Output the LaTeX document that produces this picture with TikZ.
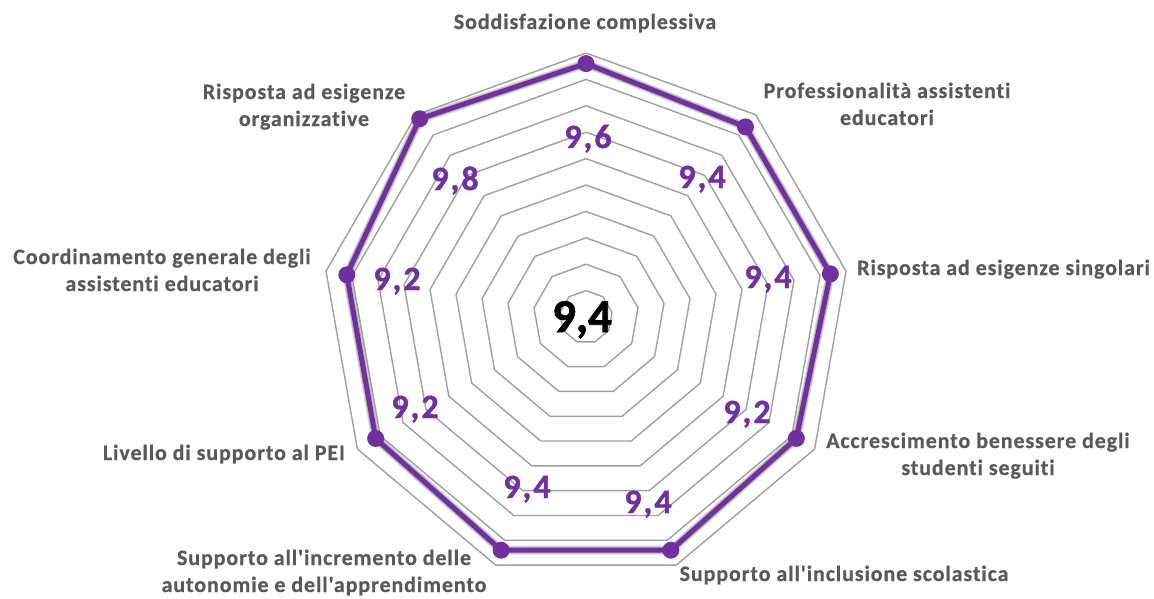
\documentclass[tikz,border=0pt]{standalone}
\usepackage{fontspec}
\setmainfont{Carlito}
\newfontfamily\lblfont[LetterSpace=4,Ligatures=NoCommon,FakeBold=0.4]{Carlito}
\newfontfamily\valfont[LetterSpace=6,Ligatures=NoCommon,FakeBold=1.2]{Carlito}
\newfontfamily\avgfont[FakeBold=1.5]{Carlito}
\definecolor{lblgray}{RGB}{89,89,89}
\definecolor{purp}{RGB}{112,48,160}
\definecolor{gridgray}{RGB}{160,160,160}
\begin{document}
\begin{tikzpicture}[x=1pt,y=-1pt,
  gridline/.style={draw=gridgray,line width=1.4pt,line join=round},
  axislabel/.style={text=lblgray,font=\lblfont\bfseries\fontsize{22}{27}\selectfont,align=center,inner sep=0pt,anchor=base},
  vallabel/.style={text=purp,font=\valfont\bfseries\fontsize{34}{34}\selectfont,inner sep=0pt,anchor=base},
  series/.style={draw=purp,line width=5pt,line join=round},
  shadowline/.style={draw=black,line width=9pt,line join=round,opacity=0.15},
  marker/.style={circle,fill=purp,inner sep=0pt,minimum size=17pt}]
\useasboundingbox (0,0) rectangle (1154,598);
\fill[white] (0,0) rectangle (1154,598);
\begin{scope}[shift={(586,317)}]
  % grid rings
  \foreach \i in {1,...,10}{
    \pgfmathsetmacro{\r}{26.4*\i}
    \draw[gridline] ({\r*cos(-90)},{\r*sin(-90)})
      \foreach \k in {1,...,8}{ -- ({\r*cos(-90+40*\k)},{\r*sin(-90+40*\k)}) } -- cycle;
  }
  % data points
  \foreach \v [count=\k from 0] in {9.6,9.4,9.4,9.2,9.4,9.4,9.2,9.2,9.8}{
    \coordinate (p\k) at ({26.4*\v*cos(-90+40*\k)},{26.4*\v*sin(-90+40*\k)});
  }
  \begin{scope}[shift={(0,-4)}]
    \draw[shadowline] (p0)--(p1)--(p2)--(p3)--(p4)--(p5)--(p6)--(p7)--(p8)--cycle;
  \end{scope}
  \begin{scope}[shift={(0,-2)}]
    \draw[shadowline,line width=7pt] (p0)--(p1)--(p2)--(p3)--(p4)--(p5)--(p6)--(p7)--(p8)--cycle;
  \end{scope}
  \draw[series] (p0)--(p1)--(p2)--(p3)--(p4)--(p5)--(p6)--(p7)--(p8)--cycle;
  \foreach \k in {0,...,8}{ \node[marker] (m\k) at (p\k) {}; }
\end{scope}
% axis labels (base anchor = baseline of the last line)
\node[axislabel] (l0) at (585,29) {Soddisfazione complessiva};
\node[axislabel] (l1) at (887,125) {Professionalità assistenti\\educatori};
\node[axislabel,anchor=base west] (l2) at (857,275) {Risposta ad esigenze singolari};
\node[axislabel] (l3) at (978,475) {Accrescimento benessere degli\\studenti seguiti};
\node[axislabel] (l4) at (844,581) {Supporto all'inclusione scolastica};
\node[axislabel] (l5) at (324,592) {Supporto all'incremento delle\\autonomie e dell'apprendimento};
\node[axislabel,anchor=base east] (l6) at (345,460) {Livello di supporto al PEI};
\node[axislabel] (l7) at (162,291) {Coordinamento generale degli\\assistenti educatori};
\node[axislabel] (l8) at (304,126) {Risposta ad esigenze\\organizzative};
% value labels
\node[vallabel] (v0) at (588,148) {9,6};
\node[vallabel] (v1) at (702,188) {9,4};
\node[vallabel] (v2) at (768,288) {9,4};
\node[vallabel] (v3) at (747,423) {9,2};
\node[vallabel] (v4) at (648,513) {9,4};
\node[vallabel] (v5) at (527,498) {9,4};
\node[vallabel] (v6) at (415,418) {9,2};
\node[vallabel] (v7) at (397,290) {9,2};
\node[vallabel] (v8) at (455,190) {9,8};
% centre value
\node[font=\avgfont\bfseries\fontsize{47}{47}\selectfont,inner sep=0pt,anchor=base] (avg) at (582,332) {9,4};
\end{tikzpicture}
\end{document}
